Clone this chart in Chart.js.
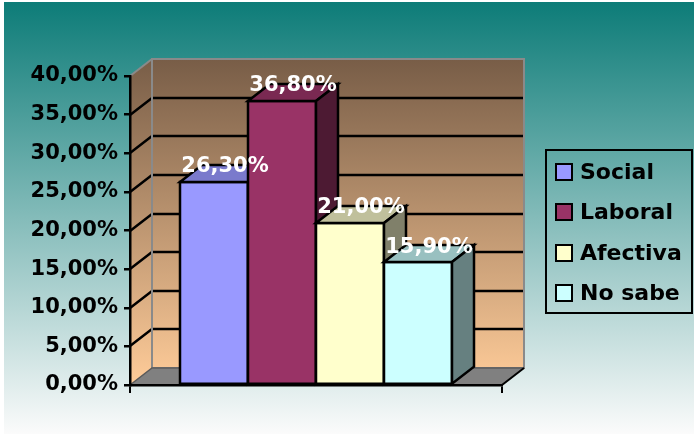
<!DOCTYPE html>
<html lang="es">
<head>
<meta charset="utf-8">
<title>Gráfico de barras</title>
<script src="https://cdn.jsdelivr.net/npm/chart.js@4.4.1/dist/chart.umd.min.js"></script>
<style>
  html, body { margin: 0; padding: 0; background: #fff; }
  #grafico { display: block; }
</style>
</head>
<body>
<canvas id="grafico" width="694" height="434"></canvas>
<script>
// Datos del gráfico
const categorias = ['Social', 'Laboral', 'Afectiva', 'No sabe'];
const valores = [26.3, 36.8, 21.0, 15.9];
const ejeMax = 40;
const ejePaso = 5;

// Colores de cada barra: cara frontal, tapa y lateral
const coloresFrente = ['#9999ff', '#993366', '#ffffcc', '#ccffff'];
const coloresTapa = ['#7a7acc', '#7a2952', '#c0c09c', '#99c0c0'];
const coloresLado = ['#4d4d80', '#4d1a33', '#80806a', '#668080'];

// Profundidad del efecto 3D
const PROF_X = 22;
const PROF_Y = 17;
const FUENTE = '"DejaVu Sans", sans-serif';

function formatoPorcentaje(v) {
    return v.toFixed(2).replace('.', ',') + '%';
}

function poligono(ctx, puntos, relleno, borde, grosor) {
    ctx.beginPath();
    ctx.moveTo(puntos[0][0], puntos[0][1]);
    for (let i = 1; i < puntos.length; i++) ctx.lineTo(puntos[i][0], puntos[i][1]);
    ctx.closePath();
    if (relleno) { ctx.fillStyle = relleno; ctx.fill(); }
    if (borde) { ctx.strokeStyle = borde; ctx.lineWidth = grosor || 2; ctx.stroke(); }
}

function linea(ctx, puntos, color, grosor) {
    ctx.beginPath();
    ctx.moveTo(puntos[0][0], puntos[0][1]);
    for (let i = 1; i < puntos.length; i++) ctx.lineTo(puntos[i][0], puntos[i][1]);
    ctx.strokeStyle = color;
    ctx.lineWidth = grosor || 2;
    ctx.stroke();
}

// Fondo, paredes y piso en perspectiva
const escena3d = {
    id: 'escena3d',
    beforeDraw(chart) {
        const { ctx, width, height, chartArea: a, scales: { y } } = chart;
        ctx.save();

        ctx.fillStyle = '#ffffff';
        ctx.fillRect(0, 0, width, height);
        const fondo = ctx.createLinearGradient(0, 2, 0, height);
        fondo.addColorStop(0, '#0d7c78');
        fondo.addColorStop(1, '#fbfbfb');
        ctx.fillStyle = fondo;
        ctx.fillRect(4, 2, width - 4, height - 2);

        const l = a.left, r = a.right, t = a.top, b = a.bottom;
        const pared = ctx.createLinearGradient(0, t - PROF_Y, 0, b);
        pared.addColorStop(0, '#785d47');
        pared.addColorStop(1, '#ffcc99');

        // pared del fondo y pared lateral
        ctx.fillStyle = pared;
        ctx.fillRect(l + PROF_X, t - PROF_Y, r - l, b - t);
        poligono(ctx, [[l, t], [l + PROF_X, t - PROF_Y], [l + PROF_X, b - PROF_Y], [l, b]], pared);

        // piso
        poligono(ctx, [[l, b], [l + PROF_X, b - PROF_Y], [r + PROF_X, b - PROF_Y], [r, b]], '#808080');

        // líneas de división, alineadas al píxel
        y.ticks.forEach(tick => {
            if (tick.value <= 0 || tick.value >= ejeMax) return;
            const py = Math.round(y.getPixelForValue(tick.value));
            linea(ctx, [[l, py], [l + PROF_X, py - PROF_Y], [r + PROF_X, py - PROF_Y]], '#000000', 2.5);
        });

        // marco de las paredes
        ctx.strokeStyle = '#8a8a8a';
        ctx.lineWidth = 2;
        ctx.strokeRect(l + PROF_X, t - PROF_Y, r - l, b - t);
        linea(ctx, [[l, t], [l + PROF_X, t - PROF_Y]], '#8a8a8a', 2);
        linea(ctx, [[l, b], [l + PROF_X, b - PROF_Y], [r + PROF_X, b - PROF_Y]], '#5a5a5a', 1.5);
        linea(ctx, [[r, b], [r + PROF_X, b - PROF_Y]], '#000000', 2);

        ctx.restore();
    },
    // las barras se dibujan en 3D más abajo
    beforeDatasetDraw() {
        return false;
    },
    afterDatasetsDraw(chart) {
        const { ctx } = chart;
        ctx.save();
        ctx.lineJoin = 'miter';

        chart.data.datasets.forEach((ds, i) => {
            const bar = chart.getDatasetMeta(i).data[0];
            const x0 = Math.round(bar.x - bar.width / 2);
            const x1 = Math.round(bar.x + bar.width / 2);
            const yt = Math.round(bar.y);
            const yb = bar.base;

            poligono(ctx, [[x0, yt], [x1, yt], [x1, yb], [x0, yb]], coloresFrente[i], '#000000', 2.5);
            poligono(ctx, [[x0, yt], [x0 + PROF_X, yt - PROF_Y], [x1 + PROF_X, yt - PROF_Y], [x1, yt]], coloresTapa[i], '#000000', 2.5);
            poligono(ctx, [[x1, yt], [x1 + PROF_X, yt - PROF_Y], [x1 + PROF_X, yb - PROF_Y], [x1, yb]], coloresLado[i], '#000000', 2.5);
        });

        // etiquetas de valor
        ctx.font = 'bold 21px ' + FUENTE;
        ctx.fillStyle = '#ffffff';
        ctx.textAlign = 'center';
        ctx.textBaseline = 'middle';
        chart.data.datasets.forEach((ds, i) => {
            const bar = chart.getDatasetMeta(i).data[0];
            ctx.fillText(formatoPorcentaje(ds.data[0]), bar.x + PROF_X / 2, bar.y - PROF_Y + 2);
        });

        ctx.restore();
    },
    // leyenda con recuadro
    afterDraw(chart) {
        const { ctx } = chart;
        const caja = { x: 546, y: 150, w: 146, h: 163 };
        ctx.save();
        ctx.strokeStyle = '#000000';
        ctx.lineWidth = 2;
        ctx.strokeRect(caja.x, caja.y, caja.w, caja.h);

        ctx.font = 'bold 22px ' + FUENTE;
        ctx.textAlign = 'left';
        ctx.textBaseline = 'middle';
        chart.data.datasets.forEach((ds, i) => {
            const cy = Math.round(caja.y + 22 + i * 40.3);
            ctx.fillStyle = ds.backgroundColor;
            ctx.fillRect(caja.x + 10, cy - 8, 16, 16);
            ctx.strokeRect(caja.x + 10, cy - 8, 16, 16);
            ctx.fillStyle = '#000000';
            ctx.fillText(ds.label, caja.x + 34, cy + 1);
        });
        ctx.restore();
    }
};

Chart.defaults.font.family = FUENTE;

new Chart(document.getElementById('grafico'), {
    type: 'bar',
    data: {
        labels: [''],
        datasets: categorias.map((nombre, i) => ({
            label: nombre,
            data: [valores[i]],
            backgroundColor: coloresFrente[i],
            borderColor: '#000000',
            borderWidth: 2
        }))
    },
    options: {
        responsive: false,
        animation: false,
        layout: {
            padding: { left: 30, top: 76, right: 192, bottom: 0 }
        },
        datasets: {
            bar: {
                categoryPercentage: 0.731,
                barPercentage: 1
            }
        },
        scales: {
            x: {
                grid: {
                    drawOnChartArea: false,
                    color: '#000000',
                    lineWidth: 2,
                    tickLength: 8
                },
                border: { color: '#000000', width: 2.5 },
                ticks: { display: false },
                afterFit(scale) { scale.height = 49; }
            },
            y: {
                min: 0,
                max: ejeMax,
                grid: {
                    drawOnChartArea: false,
                    color: '#000000',
                    lineWidth: 2.5,
                    tickLength: 6
                },
                border: { color: '#000000', width: 2.5 },
                ticks: {
                    stepSize: ejePaso,
                    padding: 6,
                    color: '#000000',
                    font: { size: 21, weight: 'bold', family: FUENTE },
                    callback: v => formatoPorcentaje(v)
                },
                afterFit(scale) { scale.width = 100; }
            }
        },
        plugins: {
            legend: { display: false },
            tooltip: { enabled: false }
        }
    },
    plugins: [escena3d]
});
</script>
</body>
</html>
